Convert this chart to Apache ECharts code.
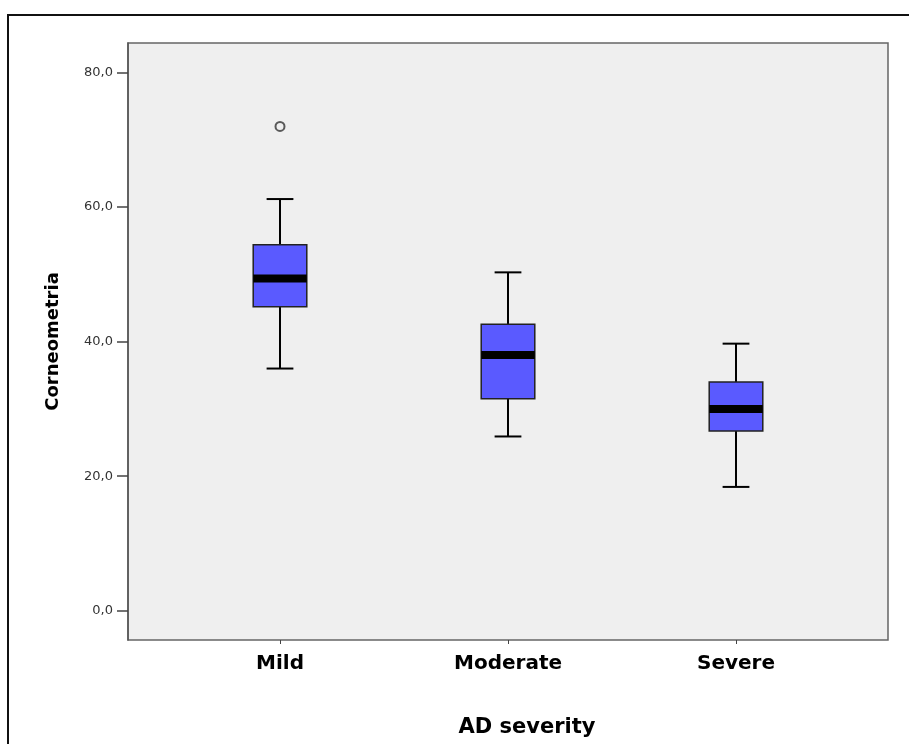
<!DOCTYPE html>
<html><head><meta charset="utf-8">
<script src="https://cdn.jsdelivr.net/npm/echarts@6/dist/echarts.min.js"></script>
<style>html,body{margin:0;padding:0;background:#fff}#c{width:909px;height:744px}</style>
</head><body><div id="c"></div>
<script>
var categories = ['Mild', 'Moderate', 'Severe'];
var lowerWhisker = [36.0, 25.9, 18.4];
var q1 = [45.2, 31.5, 26.7];
var median = [49.4, 38.0, 30.0];
var q3 = [54.4, 42.6, 34.0];
var upperWhisker = [61.2, 50.3, 39.7];
var outliers = [[0, 72.0]];
var yTicks = [0, 20, 40, 60, 80];
var yMin = -4.36, yMax = 84.4;

var boxData = categories.map(function (c, i) {
  return [i, lowerWhisker[i], q1[i], median[i], q3[i], upperWhisker[i]];
});

var chart = echarts.init(document.getElementById('c'));
var fontFam = 'DejaVu Sans, Verdana, sans-serif';

chart.setOption({
  animation: false,
  backgroundColor: '#fff',
  graphic: [{
    type: 'rect', shape: { x: 8, y: 15, width: 1000, height: 1000 },
    style: { fill: 'none', stroke: '#111', lineWidth: 2 }, z: -10
  }],
  grid: [
    { left: 128, top: 43, width: 760, height: 597, show: true, backgroundColor: '#efefef', borderColor: '#666', borderWidth: 1.5 },
    { left: 166, top: 43, width: 684, height: 597 }
  ],
  xAxis: [
    { gridIndex: 0, type: 'value', min: 0, max: 1, show: false },
    { gridIndex: 1, type: 'category', data: categories,
      axisLine: { show: false, onZero: false },
      axisTick: { show: true, alignWithLabel: true, length: 4, lineStyle: { color: '#444' } },
      axisLabel: { margin: 14, fontFamily: fontFam, fontWeight: 'bold', fontSize: 20, color: '#000' },
      name: 'AD severity', nameLocation: 'middle', nameGap: 77,
      nameTextStyle: { fontFamily: fontFam, fontWeight: 'bold', fontSize: 21, color: '#000', padding: [0, 0, 0, 38] }
    }
  ],
  yAxis: [
    { gridIndex: 0, type: 'value', min: yMin, max: yMax,
      axisLine: { show: true, lineStyle: { color: '#555', width: 1.5 } },
      axisTick: { show: true, length: 11, customValues: yTicks, lineStyle: { color: '#444', width: 1.5 } },
      axisLabel: { customValues: yTicks, margin: 15, fontFamily: fontFam, fontSize: 13, color: '#333',
        formatter: function (v) { return v.toFixed(1).replace('.', ','); } },
      splitLine: { show: false },
      name: 'Corneometria', nameLocation: 'middle', nameGap: 66, nameRotate: 90,
      nameTextStyle: { fontFamily: fontFam, fontWeight: 'bold', fontSize: 18, color: '#000' }
    },
    { gridIndex: 1, type: 'value', min: yMin, max: yMax, show: false }
  ],
  series: [
    {
      type: 'custom', xAxisIndex: 1, yAxisIndex: 1,
      data: boxData,
      encode: { x: 0, y: [1, 2, 3, 4, 5] },
      renderItem: function (params, api) {
        var x = api.value(0);
        var pLow = api.coord([x, api.value(1)]);
        var pQ1 = api.coord([x, api.value(2)]);
        var pMed = api.coord([x, api.value(3)]);
        var pQ3 = api.coord([x, api.value(4)]);
        var pHigh = api.coord([x, api.value(5)]);
        var cx = pLow[0];
        var bw = api.size([1, 0])[0] * 0.235;
        var hw = bw / 2, cw = bw / 4;
        var wl = { stroke: '#000', lineWidth: 2 };
        return {
          type: 'group',
          children: [
            { type: 'line', shape: { x1: cx, y1: pHigh[1], x2: cx, y2: pQ3[1] }, style: wl },
            { type: 'line', shape: { x1: cx, y1: pLow[1], x2: cx, y2: pQ1[1] }, style: wl },
            { type: 'line', shape: { x1: cx - cw, y1: pHigh[1], x2: cx + cw, y2: pHigh[1] }, style: wl },
            { type: 'line', shape: { x1: cx - cw, y1: pLow[1], x2: cx + cw, y2: pLow[1] }, style: wl },
            { type: 'rect', shape: { x: cx - hw, y: pQ3[1], width: bw, height: pQ1[1] - pQ3[1] },
              style: { fill: '#5a5aff', stroke: '#222', lineWidth: 1.5 } },
            { type: 'line', shape: { x1: cx - hw, y1: pMed[1], x2: cx + hw, y2: pMed[1] },
              style: { stroke: '#000', lineWidth: 8 } }
          ]
        };
      }
    },
    {
      type: 'scatter', xAxisIndex: 1, yAxisIndex: 1,
      data: outliers, symbol: 'circle', symbolSize: 9,
      itemStyle: { color: 'none', borderColor: '#333', borderWidth: 2 }
    }
  ]
});
</script></body></html>
